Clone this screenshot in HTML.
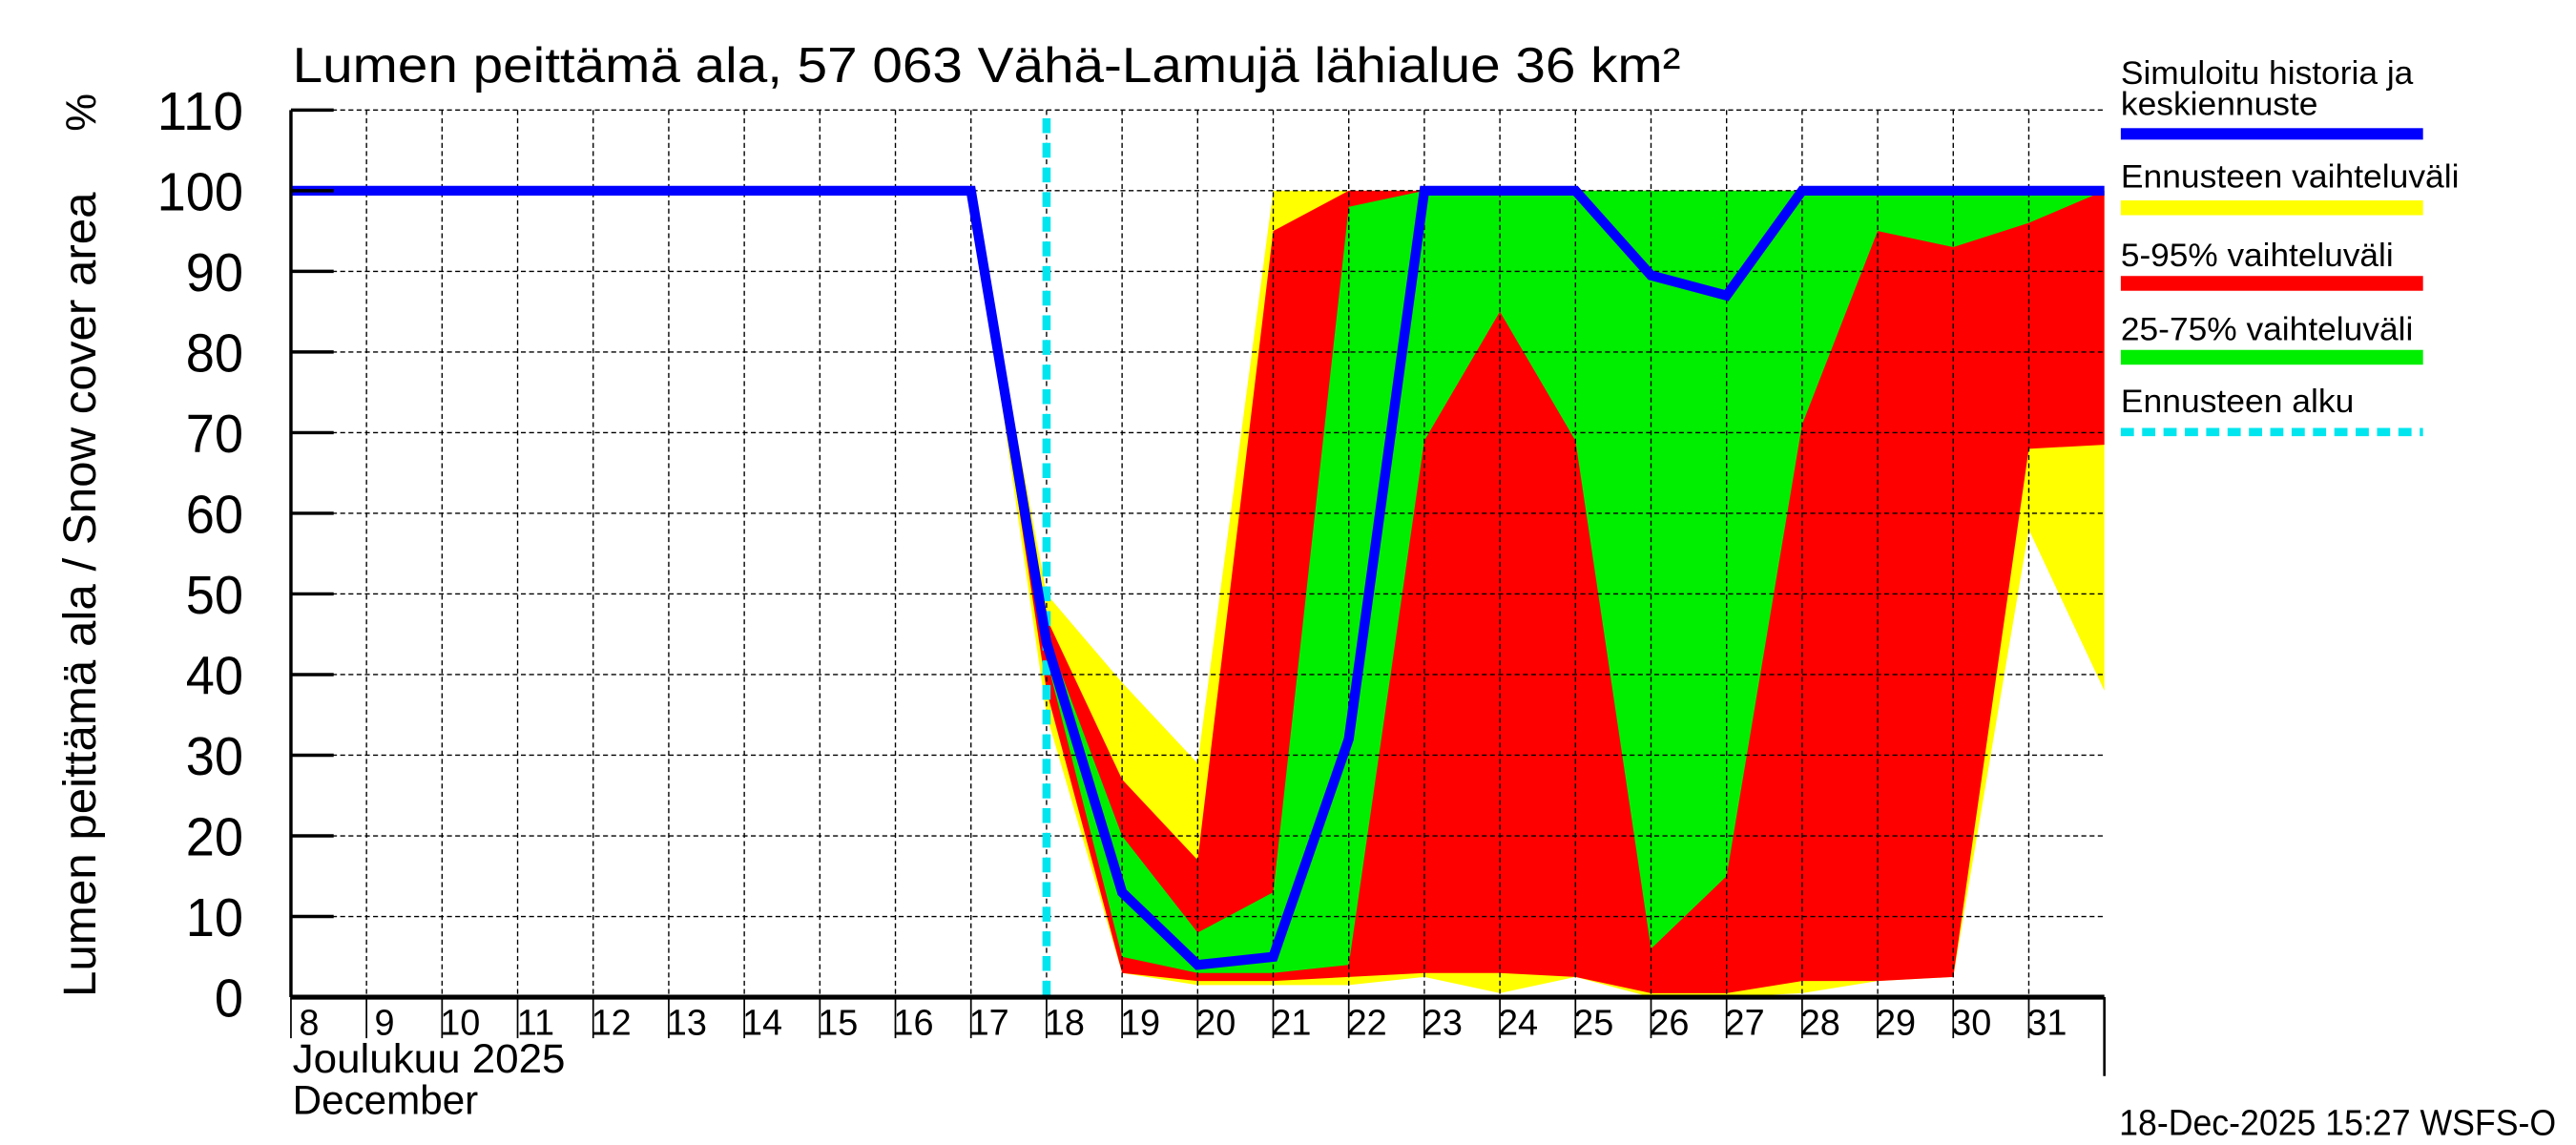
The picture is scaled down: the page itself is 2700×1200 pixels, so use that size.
<!DOCTYPE html>
<html><head><meta charset="utf-8"><style>
html,body{margin:0;padding:0;background:#fff;}
svg{display:block;font-family:"Liberation Sans",sans-serif;}
</style></head><body>
<svg id="c" width="2700" height="1200" viewBox="0 0 1568 697">
<rect width="1568" height="697" fill="#fff"/>
<g id="bands"></g><g id="grid"></g><g id="series"></g><g id="axes"></g>
<text x="178" y="50" font-size="30" textLength="845" lengthAdjust="spacingAndGlyphs">Lumen peittämä ala, 57 063 Vähä-Lamujä lähialue 36 km²</text>
<text transform="translate(58,362) rotate(-90)" text-anchor="middle" font-size="28" textLength="490" lengthAdjust="spacingAndGlyphs">Lumen peittämä ala / Snow cover area</text>
<text transform="translate(58,80) rotate(-90)" font-size="26">%</text>
<text x="178" y="653" font-size="25" textLength="166" lengthAdjust="spacingAndGlyphs">Joulukuu  2025</text>
<text x="178" y="678" font-size="25" textLength="113" lengthAdjust="spacingAndGlyphs">December</text>
<text x="1290" y="691" font-size="22" textLength="266" lengthAdjust="spacingAndGlyphs">18-Dec-2025 15:27 WSFS-O</text>
<g font-size="20">
<text x="1291" y="51" textLength="178" lengthAdjust="spacingAndGlyphs">Simuloitu historia ja</text>
<text x="1291" y="70" textLength="120" lengthAdjust="spacingAndGlyphs">keskiennuste</text>
<rect x="1291" y="78" width="184" height="7" fill="#0000ff"/>
<text x="1291" y="114" textLength="206" lengthAdjust="spacingAndGlyphs">Ennusteen vaihteluväli</text>
<rect x="1291" y="122" width="184" height="9" fill="#ffff00"/>
<text x="1291" y="162" textLength="166" lengthAdjust="spacingAndGlyphs">5-95% vaihteluväli</text>
<rect x="1291" y="168" width="184" height="9" fill="#ff0000"/>
<text x="1291" y="207" textLength="178" lengthAdjust="spacingAndGlyphs">25-75% vaihteluväli</text>
<rect x="1291" y="213" width="184" height="9" fill="#00ee00"/>
<text x="1291" y="251" textLength="142" lengthAdjust="spacingAndGlyphs">Ennusteen alku</text>
<line x1="1291" y1="263" x2="1475" y2="263" stroke="#00e5ee" stroke-width="5" stroke-dasharray="8,5"/>
</g>
</svg>
<script>
const days=[8,9,10,11,12,13,14,15,16,17,18,19,20,21,22,23,24,25,26,27,28,29,30,31,32];
const median=[100,100,100,100,100,100,100,100,100,100,44,13,4,5,32,100,100,100,89.5,87,100,100,100,100,100];
const bandDays=[17,18,19,20,21,22,23,24,25,26,27,28,29,30,31,32];
const minV=[100,35,3,1.5,1.5,1.5,2.5,0.5,2.5,0,0,0.5,2,2.5,58,38];
const maxV=[100,50,39,29,100,100,100,100,100,100,100,100,100,100,100,100];
const p5=[100,38,3,2,2,2.5,3,3,2.5,0.5,0.5,2,2,2.5,68,68.5];
const p95=[100,47,27,17,95,100,100,100,100,100,100,100,100,100,100,100];
const p25=[100,42,5,3,3,4,69,85,69,6,15,71,95,93,96,100];
const p75=[100,45,20,8,13,98,100,100,100,100,100,100,100,100,100,100];
const yTicks=[0,10,20,30,40,50,60,70,80,90,100,110];
const xLabels=[8,9,10,11,12,13,14,15,16,17,18,19,20,21,22,23,24,25,26,27,28,29,30,31];
const forecastStart=18;
const L=177,R=1281,T=67,B=607;
const X=d=>L+(d-8)*(R-L)/24;
const Y=v=>B-v*(B-T)/110;
const NS="http://www.w3.org/2000/svg";
function mk(tag,parent,attrs){const e=document.createElementNS(NS,tag);for(const k in attrs)e.setAttribute(k,attrs[k]);parent.appendChild(e);return e;}
const bands=document.getElementById('bands'),grid=document.getElementById('grid'),series=document.getElementById('series'),axes=document.getElementById('axes');
function band(lo,hi,color,name){
  let pts=bandDays.map((d,i)=>X(d)+','+Y(hi[i]));
  for(let i=bandDays.length-1;i>=0;i--)pts.push(X(bandDays[i])+','+Y(lo[i]));
  const p=mk('polygon',bands,{points:pts.join(' '),fill:color});
  
  
}
band(minV,maxV,'#ffff00','band-min-max');
band(p5,p95,'#ff0000','band-5-95');
band(p25,p75,'#00ee00','band-25-75');
yTicks.forEach(v=>{
  if(v>0){const g=mk('line',grid,{x1:L,x2:R,y1:Y(v),y2:Y(v),stroke:'#000','stroke-width':0.8,'stroke-dasharray':'3,2'});
  
  }
  const t=mk('line',axes,{x1:L,x2:L+26,y1:Y(v),y2:Y(v),stroke:'#000','stroke-width':2});
  
  
  const s=String(v);
  const tx=mk('text',axes,{x:148,y:Y(v)+12,'text-anchor':'end','font-size':33,textLength:s.length*17.5,lengthAdjust:'spacingAndGlyphs'});
  tx.textContent=s;
  
  
});
xLabels.forEach(d=>{
  if(d>8){const g=mk('line',grid,{x1:X(d),x2:X(d),y1:T,y2:B,stroke:'#000','stroke-width':0.8,'stroke-dasharray':'3,2'});
  
  }
  const t=mk('line',axes,{x1:X(d),x2:X(d),y1:B,y2:B+25,stroke:'#000','stroke-width':1});
  
  
  const tx=mk('text',axes,{x:X(d)+11,y:B+23,'text-anchor':'middle','font-size':22});
  tx.textContent=d;
  
  
});
const fl=mk('line',series,{x1:X(forecastStart),x2:X(forecastStart),y1:T+5,y2:B,stroke:'#00e5ee','stroke-width':5,'stroke-dasharray':'9,6'});


const ml=mk('polyline',series,{points:days.map((d,i)=>X(d)+','+Y(median[i])).join(' '),fill:'none',stroke:'#0000ff','stroke-width':6,'stroke-linejoin':'miter'});


const ay=mk('line',axes,{x1:L,x2:L,y1:T,y2:B,stroke:'#000','stroke-width':2});


const ax=mk('line',axes,{x1:L,x2:R,y1:B,y2:B,stroke:'#000','stroke-width':3});


const ar=mk('line',axes,{x1:R,x2:R,y1:B,y2:B+48,stroke:'#000','stroke-width':1.5});


</script>
</body></html>
